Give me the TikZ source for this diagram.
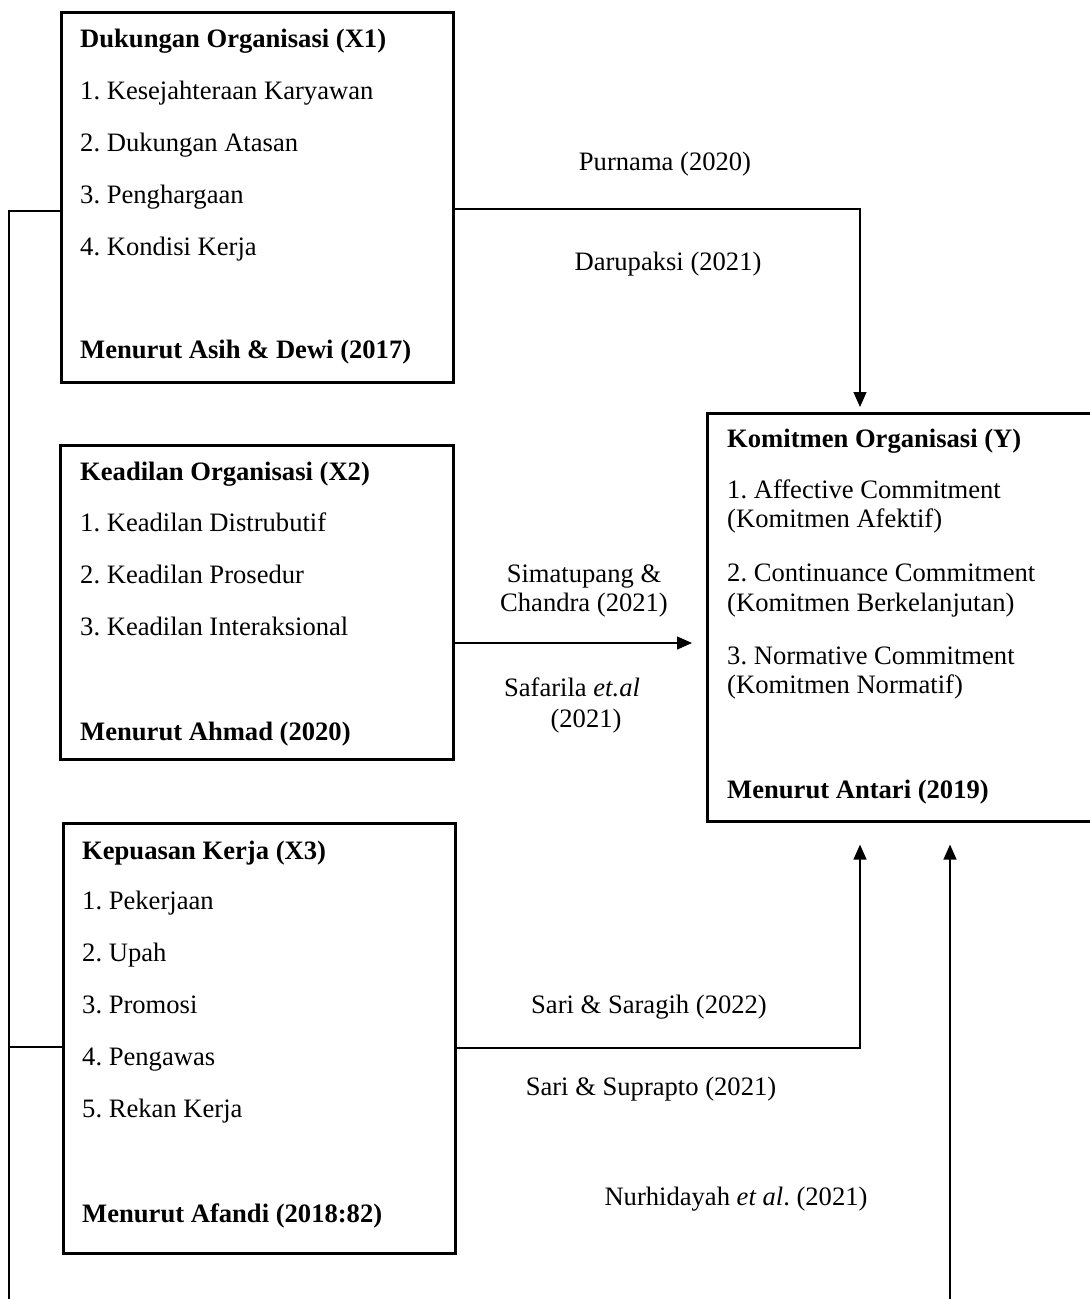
\documentclass[tikz,border=0pt]{standalone}
\usepackage{fontspec}
\setmainfont{Liberation Serif}
\usetikzlibrary{arrows.meta,calc}
\frenchspacing
\begin{document}
\begin{tikzpicture}[x=1pt,y=-1pt,
  boxnode/.style={draw,line width=2.6pt,rectangle,anchor=north west,inner sep=0pt},
  txt/.style={anchor=base west,inner sep=0pt,font=\fontsize{26.6}{30}\selectfont\frenchspacing},
  hd/.style={txt,font=\fontsize{26.6}{30}\selectfont\bfseries\frenchspacing},
  lbl/.style={anchor=base,inner sep=0pt,font=\fontsize{26.6}{30}\selectfont\frenchspacing},
  conn/.style={line width=1.3pt},
  arr/.style={conn,-{Triangle[length=15pt,width=13pt]}}]
\useasboundingbox (0,0) rectangle (1090,1299);
\clip (0,0) rectangle (1090,1299);
% boxes
\node[boxnode,minimum width=392,minimum height=370] (x1) at (60,11) {};
\node[boxnode,minimum width=393,minimum height=314] (x2) at (59,444) {};
\node[boxnode,minimum width=392,minimum height=430] (x3) at (62,822) {};
\node[boxnode,minimum width=400,minimum height=408] (y) at (706,412) {};
% X1 text
\node[hd] (x1t) at (80,47) {Dukungan Organisasi (X1)};
\node[txt] (x1a) at (80,99) {1. Kesejahteraan Karyawan};
\node[txt] (x1b) at (80,151) {2. Dukungan Atasan};
\node[txt] (x1c) at (80,203) {3. Penghargaan};
\node[txt] (x1d) at (80,255) {4. Kondisi Kerja};
\node[hd] (x1s) at (80,358) {Menurut Asih \& Dewi (2017)};
% X2 text
\node[hd] (x2t) at (80,480) {Keadilan Organisasi (X2)};
\node[txt] (x2a) at (80,531) {1. Keadilan Distrubutif};
\node[txt] (x2b) at (80,583) {2. Keadilan Prosedur};
\node[txt] (x2c) at (80,635) {3. Keadilan Interaksional};
\node[hd] (x2s) at (80,740) {Menurut Ahmad (2020)};
% X3 text
\node[hd] (x3t) at (82,859) {Kepuasan Kerja (X3)};
\node[txt] (x3a) at (82,909) {1. Pekerjaan};
\node[txt] (x3b) at (82,961) {2. Upah};
\node[txt] (x3c) at (82,1013) {3. Promosi};
\node[txt] (x3d) at (82,1065) {4. Pengawas};
\node[txt] (x3e) at (82,1117) {5. Rekan Kerja};
\node[hd] (x3s) at (82,1222) {Menurut Afandi (2018:82)};
% Y text
\node[hd] (yt) at (727,447) {Komitmen Organisasi (Y)};
\node[txt] (ya1) at (727,498) {1. Affective Commitment};
\node[txt] (ya2) at (727,527) {(Komitmen Afektif)};
\node[txt] (yb1) at (727,581) {2. Continuance Commitment};
\node[txt] (yb2) at (727,611) {(Komitmen Berkelanjutan)};
\node[txt] (yc1) at (727,664) {3. Normative Commitment};
\node[txt] (yc2) at (727,693) {(Komitmen Normatif)};
\node[hd] (ys) at (727,798) {Menurut Antari (2019)};
% labels
\node[lbl] (l1) at (665,170) {Purnama (2020)};
\node[lbl] (l2) at (668,270) {Darupaksi (2021)};
\node[lbl] (l3) at (584,582) {Simatupang \&};
\node[lbl] (l4) at (584,611) {Chandra (2021)};
\node[lbl] (l5) at (572,696) {Safarila \textit{et.al}};
\node[lbl] (l6) at (586,727) {(2021)};
\node[lbl] (l7) at (649,1013) {Sari \& Saragih (2022)};
\node[lbl] (l8) at (651,1095) {Sari \& Suprapto (2021)};
\node[lbl] (l9) at (736,1205) {Nurhidayah \textit{et al}. (2021)};
% coordinates
\coordinate (bl) at (9,1299);
\coordinate (br) at (950,1299);
% connectors
\draw[arr,shorten >=5pt] (x1.east |- 0,209) -| (860,0 |- y.north);
\draw[arr,shorten >=14pt] (x2.east |- 0,643) -- (y.west |- 0,643);
\draw[arr,shorten >=22pt] (x3.east |- 0,1048) -| (860,0 |- y.south);
\draw[arr,shorten >=22pt] (br) -- (950,0 |- y.south);
\draw[conn] (x1.west |- 0,211) -| (bl);
\draw[conn] (x3.west |- 0,1047) -- (9,1047);
\end{tikzpicture}
\end{document}
